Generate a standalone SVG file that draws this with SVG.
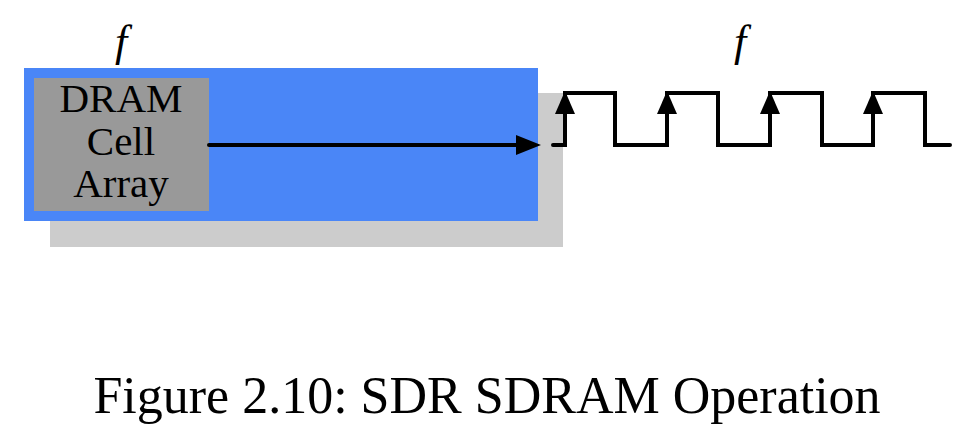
<svg xmlns="http://www.w3.org/2000/svg" width="966" height="444" viewBox="0 0 966 444">
<style>
.t{font-family:"Liberation Serif","Times New Roman",serif;fill:#000}
.f{font-family:"Liberation Serif","Times New Roman",serif;font-style:italic;font-size:44px;fill:#000}
.w{fill:none;stroke:#000;stroke-width:4;stroke-linecap:round;stroke-linejoin:miter}
</style>
<g id="shadow"><rect x="50" y="93" width="513" height="154" fill="#cccccc"/></g>
<g id="controller"><rect x="24" y="68" width="514" height="153" fill="#4a86f7"/></g>
<g id="dram">
<rect x="34" y="78" width="175" height="133" fill="#999999"/>
<text class="t" font-size="41" text-anchor="middle" x="121" y="112">DRAM</text>
<text class="t" font-size="41" text-anchor="middle" x="121" y="155">Cell</text>
<text class="t" font-size="41" text-anchor="middle" x="121" y="197">Array</text>
</g>
<g id="labels">
<text class="f" x="121" y="56" text-anchor="middle">f</text>
<text class="f" x="740" y="56" text-anchor="middle">f</text>
</g>
<g id="connectors">
<line class="w" x1="209" y1="145" x2="518" y2="145"/>
<path d="M516,135 L541,145 L516,155 z" fill="#000"/>
<path class="w" d="M553,145 H565 V93 H615 V145 H667 V93 H718 V145 H770 V93 H822 V145 H873 V93 H925 V145 H950"/>
<path d="M555,114 L565,91 L575,114 z" fill="#000"/>
<path d="M657,114 L667,91 L677,114 z" fill="#000"/>
<path d="M760,114 L770,91 L780,114 z" fill="#000"/>
<path d="M863,114 L873,91 L883,114 z" fill="#000"/>
</g>
<g id="caption">
<text class="t" font-size="52" text-anchor="middle" x="487" y="413">Figure 2.10: SDR SDRAM Operation</text>
</g>
</svg>
